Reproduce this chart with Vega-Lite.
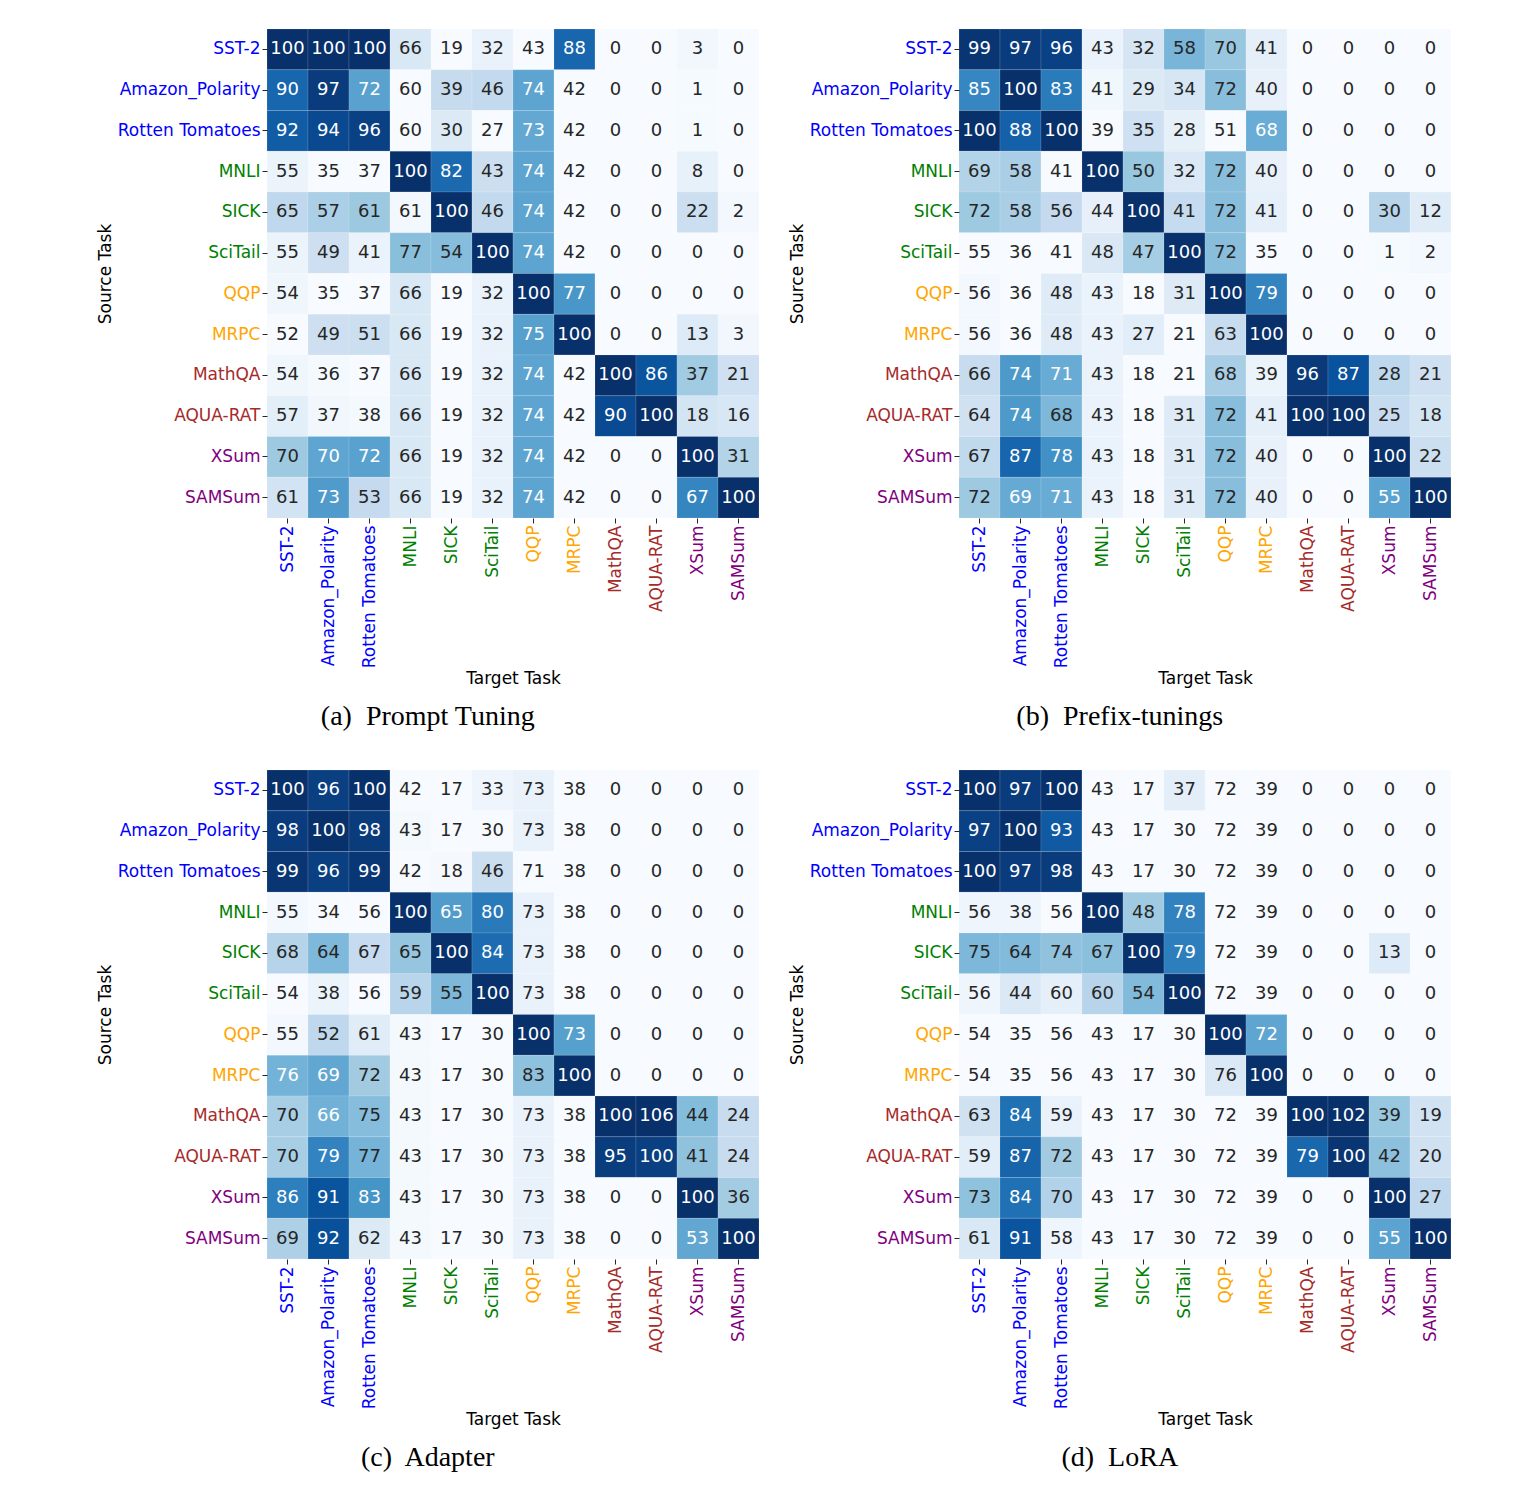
{
 "$schema": "https://vega.github.io/schema/vega-lite/v6.json",
 "padding": {"left": 96, "top": 28, "right": 5, "bottom": 5},
 "background": "white",
 "config": {
  "view": {"stroke": null},
  "axis": {"labelFont": "DejaVu Sans", "labelFontSize": 17, "titleFont": "DejaVu Sans", "titleFontSize": 17, "titleFontWeight": "normal", "titleColor": "#000000", "domain": false, "ticks": true, "tickSize": 5, "tickColor": "#262626", "tickWidth": 1, "labelPadding": 2, "titlePadding": 3, "grid": false},
  "title": {"font": "Liberation Serif", "fontSize": 28, "fontWeight": "normal", "color": "#000000", "orient": "bottom", "anchor": "middle", "frame": "bounds", "offset": 16}
 },
 "columns": 2,
 "spacing": {"row": 38, "column": 28},
 "datasets": {
  "a": [
{"s":"SST-2","t":"SST-2","v":100},{"s":"SST-2","t":"Amazon_Polarity","v":100},{"s":"SST-2","t":"Rotten Tomatoes","v":100},{"s":"SST-2","t":"MNLI","v":66},{"s":"SST-2","t":"SICK","v":19},{"s":"SST-2","t":"SciTail","v":32},{"s":"SST-2","t":"QQP","v":43},{"s":"SST-2","t":"MRPC","v":88},{"s":"SST-2","t":"MathQA","v":0},{"s":"SST-2","t":"AQUA-RAT","v":0},{"s":"SST-2","t":"XSum","v":3},{"s":"SST-2","t":"SAMSum","v":0},
{"s":"Amazon_Polarity","t":"SST-2","v":90},{"s":"Amazon_Polarity","t":"Amazon_Polarity","v":97},{"s":"Amazon_Polarity","t":"Rotten Tomatoes","v":72},{"s":"Amazon_Polarity","t":"MNLI","v":60},{"s":"Amazon_Polarity","t":"SICK","v":39},{"s":"Amazon_Polarity","t":"SciTail","v":46},{"s":"Amazon_Polarity","t":"QQP","v":74},{"s":"Amazon_Polarity","t":"MRPC","v":42},{"s":"Amazon_Polarity","t":"MathQA","v":0},{"s":"Amazon_Polarity","t":"AQUA-RAT","v":0},{"s":"Amazon_Polarity","t":"XSum","v":1},{"s":"Amazon_Polarity","t":"SAMSum","v":0},
{"s":"Rotten Tomatoes","t":"SST-2","v":92},{"s":"Rotten Tomatoes","t":"Amazon_Polarity","v":94},{"s":"Rotten Tomatoes","t":"Rotten Tomatoes","v":96},{"s":"Rotten Tomatoes","t":"MNLI","v":60},{"s":"Rotten Tomatoes","t":"SICK","v":30},{"s":"Rotten Tomatoes","t":"SciTail","v":27},{"s":"Rotten Tomatoes","t":"QQP","v":73},{"s":"Rotten Tomatoes","t":"MRPC","v":42},{"s":"Rotten Tomatoes","t":"MathQA","v":0},{"s":"Rotten Tomatoes","t":"AQUA-RAT","v":0},{"s":"Rotten Tomatoes","t":"XSum","v":1},{"s":"Rotten Tomatoes","t":"SAMSum","v":0},
{"s":"MNLI","t":"SST-2","v":55},{"s":"MNLI","t":"Amazon_Polarity","v":35},{"s":"MNLI","t":"Rotten Tomatoes","v":37},{"s":"MNLI","t":"MNLI","v":100},{"s":"MNLI","t":"SICK","v":82},{"s":"MNLI","t":"SciTail","v":43},{"s":"MNLI","t":"QQP","v":74},{"s":"MNLI","t":"MRPC","v":42},{"s":"MNLI","t":"MathQA","v":0},{"s":"MNLI","t":"AQUA-RAT","v":0},{"s":"MNLI","t":"XSum","v":8},{"s":"MNLI","t":"SAMSum","v":0},
{"s":"SICK","t":"SST-2","v":65},{"s":"SICK","t":"Amazon_Polarity","v":57},{"s":"SICK","t":"Rotten Tomatoes","v":61},{"s":"SICK","t":"MNLI","v":61},{"s":"SICK","t":"SICK","v":100},{"s":"SICK","t":"SciTail","v":46},{"s":"SICK","t":"QQP","v":74},{"s":"SICK","t":"MRPC","v":42},{"s":"SICK","t":"MathQA","v":0},{"s":"SICK","t":"AQUA-RAT","v":0},{"s":"SICK","t":"XSum","v":22},{"s":"SICK","t":"SAMSum","v":2},
{"s":"SciTail","t":"SST-2","v":55},{"s":"SciTail","t":"Amazon_Polarity","v":49},{"s":"SciTail","t":"Rotten Tomatoes","v":41},{"s":"SciTail","t":"MNLI","v":77},{"s":"SciTail","t":"SICK","v":54},{"s":"SciTail","t":"SciTail","v":100},{"s":"SciTail","t":"QQP","v":74},{"s":"SciTail","t":"MRPC","v":42},{"s":"SciTail","t":"MathQA","v":0},{"s":"SciTail","t":"AQUA-RAT","v":0},{"s":"SciTail","t":"XSum","v":0},{"s":"SciTail","t":"SAMSum","v":0},
{"s":"QQP","t":"SST-2","v":54},{"s":"QQP","t":"Amazon_Polarity","v":35},{"s":"QQP","t":"Rotten Tomatoes","v":37},{"s":"QQP","t":"MNLI","v":66},{"s":"QQP","t":"SICK","v":19},{"s":"QQP","t":"SciTail","v":32},{"s":"QQP","t":"QQP","v":100},{"s":"QQP","t":"MRPC","v":77},{"s":"QQP","t":"MathQA","v":0},{"s":"QQP","t":"AQUA-RAT","v":0},{"s":"QQP","t":"XSum","v":0},{"s":"QQP","t":"SAMSum","v":0},
{"s":"MRPC","t":"SST-2","v":52},{"s":"MRPC","t":"Amazon_Polarity","v":49},{"s":"MRPC","t":"Rotten Tomatoes","v":51},{"s":"MRPC","t":"MNLI","v":66},{"s":"MRPC","t":"SICK","v":19},{"s":"MRPC","t":"SciTail","v":32},{"s":"MRPC","t":"QQP","v":75},{"s":"MRPC","t":"MRPC","v":100},{"s":"MRPC","t":"MathQA","v":0},{"s":"MRPC","t":"AQUA-RAT","v":0},{"s":"MRPC","t":"XSum","v":13},{"s":"MRPC","t":"SAMSum","v":3},
{"s":"MathQA","t":"SST-2","v":54},{"s":"MathQA","t":"Amazon_Polarity","v":36},{"s":"MathQA","t":"Rotten Tomatoes","v":37},{"s":"MathQA","t":"MNLI","v":66},{"s":"MathQA","t":"SICK","v":19},{"s":"MathQA","t":"SciTail","v":32},{"s":"MathQA","t":"QQP","v":74},{"s":"MathQA","t":"MRPC","v":42},{"s":"MathQA","t":"MathQA","v":100},{"s":"MathQA","t":"AQUA-RAT","v":86},{"s":"MathQA","t":"XSum","v":37},{"s":"MathQA","t":"SAMSum","v":21},
{"s":"AQUA-RAT","t":"SST-2","v":57},{"s":"AQUA-RAT","t":"Amazon_Polarity","v":37},{"s":"AQUA-RAT","t":"Rotten Tomatoes","v":38},{"s":"AQUA-RAT","t":"MNLI","v":66},{"s":"AQUA-RAT","t":"SICK","v":19},{"s":"AQUA-RAT","t":"SciTail","v":32},{"s":"AQUA-RAT","t":"QQP","v":74},{"s":"AQUA-RAT","t":"MRPC","v":42},{"s":"AQUA-RAT","t":"MathQA","v":90},{"s":"AQUA-RAT","t":"AQUA-RAT","v":100},{"s":"AQUA-RAT","t":"XSum","v":18},{"s":"AQUA-RAT","t":"SAMSum","v":16},
{"s":"XSum","t":"SST-2","v":70},{"s":"XSum","t":"Amazon_Polarity","v":70},{"s":"XSum","t":"Rotten Tomatoes","v":72},{"s":"XSum","t":"MNLI","v":66},{"s":"XSum","t":"SICK","v":19},{"s":"XSum","t":"SciTail","v":32},{"s":"XSum","t":"QQP","v":74},{"s":"XSum","t":"MRPC","v":42},{"s":"XSum","t":"MathQA","v":0},{"s":"XSum","t":"AQUA-RAT","v":0},{"s":"XSum","t":"XSum","v":100},{"s":"XSum","t":"SAMSum","v":31},
{"s":"SAMSum","t":"SST-2","v":61},{"s":"SAMSum","t":"Amazon_Polarity","v":73},{"s":"SAMSum","t":"Rotten Tomatoes","v":53},{"s":"SAMSum","t":"MNLI","v":66},{"s":"SAMSum","t":"SICK","v":19},{"s":"SAMSum","t":"SciTail","v":32},{"s":"SAMSum","t":"QQP","v":74},{"s":"SAMSum","t":"MRPC","v":42},{"s":"SAMSum","t":"MathQA","v":0},{"s":"SAMSum","t":"AQUA-RAT","v":0},{"s":"SAMSum","t":"XSum","v":67},{"s":"SAMSum","t":"SAMSum","v":100}
  ],
  "b": [
{"s":"SST-2","t":"SST-2","v":99},{"s":"SST-2","t":"Amazon_Polarity","v":97},{"s":"SST-2","t":"Rotten Tomatoes","v":96},{"s":"SST-2","t":"MNLI","v":43},{"s":"SST-2","t":"SICK","v":32},{"s":"SST-2","t":"SciTail","v":58},{"s":"SST-2","t":"QQP","v":70},{"s":"SST-2","t":"MRPC","v":41},{"s":"SST-2","t":"MathQA","v":0},{"s":"SST-2","t":"AQUA-RAT","v":0},{"s":"SST-2","t":"XSum","v":0},{"s":"SST-2","t":"SAMSum","v":0},
{"s":"Amazon_Polarity","t":"SST-2","v":85},{"s":"Amazon_Polarity","t":"Amazon_Polarity","v":100},{"s":"Amazon_Polarity","t":"Rotten Tomatoes","v":83},{"s":"Amazon_Polarity","t":"MNLI","v":41},{"s":"Amazon_Polarity","t":"SICK","v":29},{"s":"Amazon_Polarity","t":"SciTail","v":34},{"s":"Amazon_Polarity","t":"QQP","v":72},{"s":"Amazon_Polarity","t":"MRPC","v":40},{"s":"Amazon_Polarity","t":"MathQA","v":0},{"s":"Amazon_Polarity","t":"AQUA-RAT","v":0},{"s":"Amazon_Polarity","t":"XSum","v":0},{"s":"Amazon_Polarity","t":"SAMSum","v":0},
{"s":"Rotten Tomatoes","t":"SST-2","v":100},{"s":"Rotten Tomatoes","t":"Amazon_Polarity","v":88},{"s":"Rotten Tomatoes","t":"Rotten Tomatoes","v":100},{"s":"Rotten Tomatoes","t":"MNLI","v":39},{"s":"Rotten Tomatoes","t":"SICK","v":35},{"s":"Rotten Tomatoes","t":"SciTail","v":28},{"s":"Rotten Tomatoes","t":"QQP","v":51},{"s":"Rotten Tomatoes","t":"MRPC","v":68},{"s":"Rotten Tomatoes","t":"MathQA","v":0},{"s":"Rotten Tomatoes","t":"AQUA-RAT","v":0},{"s":"Rotten Tomatoes","t":"XSum","v":0},{"s":"Rotten Tomatoes","t":"SAMSum","v":0},
{"s":"MNLI","t":"SST-2","v":69},{"s":"MNLI","t":"Amazon_Polarity","v":58},{"s":"MNLI","t":"Rotten Tomatoes","v":41},{"s":"MNLI","t":"MNLI","v":100},{"s":"MNLI","t":"SICK","v":50},{"s":"MNLI","t":"SciTail","v":32},{"s":"MNLI","t":"QQP","v":72},{"s":"MNLI","t":"MRPC","v":40},{"s":"MNLI","t":"MathQA","v":0},{"s":"MNLI","t":"AQUA-RAT","v":0},{"s":"MNLI","t":"XSum","v":0},{"s":"MNLI","t":"SAMSum","v":0},
{"s":"SICK","t":"SST-2","v":72},{"s":"SICK","t":"Amazon_Polarity","v":58},{"s":"SICK","t":"Rotten Tomatoes","v":56},{"s":"SICK","t":"MNLI","v":44},{"s":"SICK","t":"SICK","v":100},{"s":"SICK","t":"SciTail","v":41},{"s":"SICK","t":"QQP","v":72},{"s":"SICK","t":"MRPC","v":41},{"s":"SICK","t":"MathQA","v":0},{"s":"SICK","t":"AQUA-RAT","v":0},{"s":"SICK","t":"XSum","v":30},{"s":"SICK","t":"SAMSum","v":12},
{"s":"SciTail","t":"SST-2","v":55},{"s":"SciTail","t":"Amazon_Polarity","v":36},{"s":"SciTail","t":"Rotten Tomatoes","v":41},{"s":"SciTail","t":"MNLI","v":48},{"s":"SciTail","t":"SICK","v":47},{"s":"SciTail","t":"SciTail","v":100},{"s":"SciTail","t":"QQP","v":72},{"s":"SciTail","t":"MRPC","v":35},{"s":"SciTail","t":"MathQA","v":0},{"s":"SciTail","t":"AQUA-RAT","v":0},{"s":"SciTail","t":"XSum","v":1},{"s":"SciTail","t":"SAMSum","v":2},
{"s":"QQP","t":"SST-2","v":56},{"s":"QQP","t":"Amazon_Polarity","v":36},{"s":"QQP","t":"Rotten Tomatoes","v":48},{"s":"QQP","t":"MNLI","v":43},{"s":"QQP","t":"SICK","v":18},{"s":"QQP","t":"SciTail","v":31},{"s":"QQP","t":"QQP","v":100},{"s":"QQP","t":"MRPC","v":79},{"s":"QQP","t":"MathQA","v":0},{"s":"QQP","t":"AQUA-RAT","v":0},{"s":"QQP","t":"XSum","v":0},{"s":"QQP","t":"SAMSum","v":0},
{"s":"MRPC","t":"SST-2","v":56},{"s":"MRPC","t":"Amazon_Polarity","v":36},{"s":"MRPC","t":"Rotten Tomatoes","v":48},{"s":"MRPC","t":"MNLI","v":43},{"s":"MRPC","t":"SICK","v":27},{"s":"MRPC","t":"SciTail","v":21},{"s":"MRPC","t":"QQP","v":63},{"s":"MRPC","t":"MRPC","v":100},{"s":"MRPC","t":"MathQA","v":0},{"s":"MRPC","t":"AQUA-RAT","v":0},{"s":"MRPC","t":"XSum","v":0},{"s":"MRPC","t":"SAMSum","v":0},
{"s":"MathQA","t":"SST-2","v":66},{"s":"MathQA","t":"Amazon_Polarity","v":74},{"s":"MathQA","t":"Rotten Tomatoes","v":71},{"s":"MathQA","t":"MNLI","v":43},{"s":"MathQA","t":"SICK","v":18},{"s":"MathQA","t":"SciTail","v":21},{"s":"MathQA","t":"QQP","v":68},{"s":"MathQA","t":"MRPC","v":39},{"s":"MathQA","t":"MathQA","v":96},{"s":"MathQA","t":"AQUA-RAT","v":87},{"s":"MathQA","t":"XSum","v":28},{"s":"MathQA","t":"SAMSum","v":21},
{"s":"AQUA-RAT","t":"SST-2","v":64},{"s":"AQUA-RAT","t":"Amazon_Polarity","v":74},{"s":"AQUA-RAT","t":"Rotten Tomatoes","v":68},{"s":"AQUA-RAT","t":"MNLI","v":43},{"s":"AQUA-RAT","t":"SICK","v":18},{"s":"AQUA-RAT","t":"SciTail","v":31},{"s":"AQUA-RAT","t":"QQP","v":72},{"s":"AQUA-RAT","t":"MRPC","v":41},{"s":"AQUA-RAT","t":"MathQA","v":100},{"s":"AQUA-RAT","t":"AQUA-RAT","v":100},{"s":"AQUA-RAT","t":"XSum","v":25},{"s":"AQUA-RAT","t":"SAMSum","v":18},
{"s":"XSum","t":"SST-2","v":67},{"s":"XSum","t":"Amazon_Polarity","v":87},{"s":"XSum","t":"Rotten Tomatoes","v":78},{"s":"XSum","t":"MNLI","v":43},{"s":"XSum","t":"SICK","v":18},{"s":"XSum","t":"SciTail","v":31},{"s":"XSum","t":"QQP","v":72},{"s":"XSum","t":"MRPC","v":40},{"s":"XSum","t":"MathQA","v":0},{"s":"XSum","t":"AQUA-RAT","v":0},{"s":"XSum","t":"XSum","v":100},{"s":"XSum","t":"SAMSum","v":22},
{"s":"SAMSum","t":"SST-2","v":72},{"s":"SAMSum","t":"Amazon_Polarity","v":69},{"s":"SAMSum","t":"Rotten Tomatoes","v":71},{"s":"SAMSum","t":"MNLI","v":43},{"s":"SAMSum","t":"SICK","v":18},{"s":"SAMSum","t":"SciTail","v":31},{"s":"SAMSum","t":"QQP","v":72},{"s":"SAMSum","t":"MRPC","v":40},{"s":"SAMSum","t":"MathQA","v":0},{"s":"SAMSum","t":"AQUA-RAT","v":0},{"s":"SAMSum","t":"XSum","v":55},{"s":"SAMSum","t":"SAMSum","v":100}
  ],
  "c": [
{"s":"SST-2","t":"SST-2","v":100},{"s":"SST-2","t":"Amazon_Polarity","v":96},{"s":"SST-2","t":"Rotten Tomatoes","v":100},{"s":"SST-2","t":"MNLI","v":42},{"s":"SST-2","t":"SICK","v":17},{"s":"SST-2","t":"SciTail","v":33},{"s":"SST-2","t":"QQP","v":73},{"s":"SST-2","t":"MRPC","v":38},{"s":"SST-2","t":"MathQA","v":0},{"s":"SST-2","t":"AQUA-RAT","v":0},{"s":"SST-2","t":"XSum","v":0},{"s":"SST-2","t":"SAMSum","v":0},
{"s":"Amazon_Polarity","t":"SST-2","v":98},{"s":"Amazon_Polarity","t":"Amazon_Polarity","v":100},{"s":"Amazon_Polarity","t":"Rotten Tomatoes","v":98},{"s":"Amazon_Polarity","t":"MNLI","v":43},{"s":"Amazon_Polarity","t":"SICK","v":17},{"s":"Amazon_Polarity","t":"SciTail","v":30},{"s":"Amazon_Polarity","t":"QQP","v":73},{"s":"Amazon_Polarity","t":"MRPC","v":38},{"s":"Amazon_Polarity","t":"MathQA","v":0},{"s":"Amazon_Polarity","t":"AQUA-RAT","v":0},{"s":"Amazon_Polarity","t":"XSum","v":0},{"s":"Amazon_Polarity","t":"SAMSum","v":0},
{"s":"Rotten Tomatoes","t":"SST-2","v":99},{"s":"Rotten Tomatoes","t":"Amazon_Polarity","v":96},{"s":"Rotten Tomatoes","t":"Rotten Tomatoes","v":99},{"s":"Rotten Tomatoes","t":"MNLI","v":42},{"s":"Rotten Tomatoes","t":"SICK","v":18},{"s":"Rotten Tomatoes","t":"SciTail","v":46},{"s":"Rotten Tomatoes","t":"QQP","v":71},{"s":"Rotten Tomatoes","t":"MRPC","v":38},{"s":"Rotten Tomatoes","t":"MathQA","v":0},{"s":"Rotten Tomatoes","t":"AQUA-RAT","v":0},{"s":"Rotten Tomatoes","t":"XSum","v":0},{"s":"Rotten Tomatoes","t":"SAMSum","v":0},
{"s":"MNLI","t":"SST-2","v":55},{"s":"MNLI","t":"Amazon_Polarity","v":34},{"s":"MNLI","t":"Rotten Tomatoes","v":56},{"s":"MNLI","t":"MNLI","v":100},{"s":"MNLI","t":"SICK","v":65},{"s":"MNLI","t":"SciTail","v":80},{"s":"MNLI","t":"QQP","v":73},{"s":"MNLI","t":"MRPC","v":38},{"s":"MNLI","t":"MathQA","v":0},{"s":"MNLI","t":"AQUA-RAT","v":0},{"s":"MNLI","t":"XSum","v":0},{"s":"MNLI","t":"SAMSum","v":0},
{"s":"SICK","t":"SST-2","v":68},{"s":"SICK","t":"Amazon_Polarity","v":64},{"s":"SICK","t":"Rotten Tomatoes","v":67},{"s":"SICK","t":"MNLI","v":65},{"s":"SICK","t":"SICK","v":100},{"s":"SICK","t":"SciTail","v":84},{"s":"SICK","t":"QQP","v":73},{"s":"SICK","t":"MRPC","v":38},{"s":"SICK","t":"MathQA","v":0},{"s":"SICK","t":"AQUA-RAT","v":0},{"s":"SICK","t":"XSum","v":0},{"s":"SICK","t":"SAMSum","v":0},
{"s":"SciTail","t":"SST-2","v":54},{"s":"SciTail","t":"Amazon_Polarity","v":38},{"s":"SciTail","t":"Rotten Tomatoes","v":56},{"s":"SciTail","t":"MNLI","v":59},{"s":"SciTail","t":"SICK","v":55},{"s":"SciTail","t":"SciTail","v":100},{"s":"SciTail","t":"QQP","v":73},{"s":"SciTail","t":"MRPC","v":38},{"s":"SciTail","t":"MathQA","v":0},{"s":"SciTail","t":"AQUA-RAT","v":0},{"s":"SciTail","t":"XSum","v":0},{"s":"SciTail","t":"SAMSum","v":0},
{"s":"QQP","t":"SST-2","v":55},{"s":"QQP","t":"Amazon_Polarity","v":52},{"s":"QQP","t":"Rotten Tomatoes","v":61},{"s":"QQP","t":"MNLI","v":43},{"s":"QQP","t":"SICK","v":17},{"s":"QQP","t":"SciTail","v":30},{"s":"QQP","t":"QQP","v":100},{"s":"QQP","t":"MRPC","v":73},{"s":"QQP","t":"MathQA","v":0},{"s":"QQP","t":"AQUA-RAT","v":0},{"s":"QQP","t":"XSum","v":0},{"s":"QQP","t":"SAMSum","v":0},
{"s":"MRPC","t":"SST-2","v":76},{"s":"MRPC","t":"Amazon_Polarity","v":69},{"s":"MRPC","t":"Rotten Tomatoes","v":72},{"s":"MRPC","t":"MNLI","v":43},{"s":"MRPC","t":"SICK","v":17},{"s":"MRPC","t":"SciTail","v":30},{"s":"MRPC","t":"QQP","v":83},{"s":"MRPC","t":"MRPC","v":100},{"s":"MRPC","t":"MathQA","v":0},{"s":"MRPC","t":"AQUA-RAT","v":0},{"s":"MRPC","t":"XSum","v":0},{"s":"MRPC","t":"SAMSum","v":0},
{"s":"MathQA","t":"SST-2","v":70},{"s":"MathQA","t":"Amazon_Polarity","v":66},{"s":"MathQA","t":"Rotten Tomatoes","v":75},{"s":"MathQA","t":"MNLI","v":43},{"s":"MathQA","t":"SICK","v":17},{"s":"MathQA","t":"SciTail","v":30},{"s":"MathQA","t":"QQP","v":73},{"s":"MathQA","t":"MRPC","v":38},{"s":"MathQA","t":"MathQA","v":100},{"s":"MathQA","t":"AQUA-RAT","v":106},{"s":"MathQA","t":"XSum","v":44},{"s":"MathQA","t":"SAMSum","v":24},
{"s":"AQUA-RAT","t":"SST-2","v":70},{"s":"AQUA-RAT","t":"Amazon_Polarity","v":79},{"s":"AQUA-RAT","t":"Rotten Tomatoes","v":77},{"s":"AQUA-RAT","t":"MNLI","v":43},{"s":"AQUA-RAT","t":"SICK","v":17},{"s":"AQUA-RAT","t":"SciTail","v":30},{"s":"AQUA-RAT","t":"QQP","v":73},{"s":"AQUA-RAT","t":"MRPC","v":38},{"s":"AQUA-RAT","t":"MathQA","v":95},{"s":"AQUA-RAT","t":"AQUA-RAT","v":100},{"s":"AQUA-RAT","t":"XSum","v":41},{"s":"AQUA-RAT","t":"SAMSum","v":24},
{"s":"XSum","t":"SST-2","v":86},{"s":"XSum","t":"Amazon_Polarity","v":91},{"s":"XSum","t":"Rotten Tomatoes","v":83},{"s":"XSum","t":"MNLI","v":43},{"s":"XSum","t":"SICK","v":17},{"s":"XSum","t":"SciTail","v":30},{"s":"XSum","t":"QQP","v":73},{"s":"XSum","t":"MRPC","v":38},{"s":"XSum","t":"MathQA","v":0},{"s":"XSum","t":"AQUA-RAT","v":0},{"s":"XSum","t":"XSum","v":100},{"s":"XSum","t":"SAMSum","v":36},
{"s":"SAMSum","t":"SST-2","v":69},{"s":"SAMSum","t":"Amazon_Polarity","v":92},{"s":"SAMSum","t":"Rotten Tomatoes","v":62},{"s":"SAMSum","t":"MNLI","v":43},{"s":"SAMSum","t":"SICK","v":17},{"s":"SAMSum","t":"SciTail","v":30},{"s":"SAMSum","t":"QQP","v":73},{"s":"SAMSum","t":"MRPC","v":38},{"s":"SAMSum","t":"MathQA","v":0},{"s":"SAMSum","t":"AQUA-RAT","v":0},{"s":"SAMSum","t":"XSum","v":53},{"s":"SAMSum","t":"SAMSum","v":100}
  ],
  "d": [
{"s":"SST-2","t":"SST-2","v":100},{"s":"SST-2","t":"Amazon_Polarity","v":97},{"s":"SST-2","t":"Rotten Tomatoes","v":100},{"s":"SST-2","t":"MNLI","v":43},{"s":"SST-2","t":"SICK","v":17},{"s":"SST-2","t":"SciTail","v":37},{"s":"SST-2","t":"QQP","v":72},{"s":"SST-2","t":"MRPC","v":39},{"s":"SST-2","t":"MathQA","v":0},{"s":"SST-2","t":"AQUA-RAT","v":0},{"s":"SST-2","t":"XSum","v":0},{"s":"SST-2","t":"SAMSum","v":0},
{"s":"Amazon_Polarity","t":"SST-2","v":97},{"s":"Amazon_Polarity","t":"Amazon_Polarity","v":100},{"s":"Amazon_Polarity","t":"Rotten Tomatoes","v":93},{"s":"Amazon_Polarity","t":"MNLI","v":43},{"s":"Amazon_Polarity","t":"SICK","v":17},{"s":"Amazon_Polarity","t":"SciTail","v":30},{"s":"Amazon_Polarity","t":"QQP","v":72},{"s":"Amazon_Polarity","t":"MRPC","v":39},{"s":"Amazon_Polarity","t":"MathQA","v":0},{"s":"Amazon_Polarity","t":"AQUA-RAT","v":0},{"s":"Amazon_Polarity","t":"XSum","v":0},{"s":"Amazon_Polarity","t":"SAMSum","v":0},
{"s":"Rotten Tomatoes","t":"SST-2","v":100},{"s":"Rotten Tomatoes","t":"Amazon_Polarity","v":97},{"s":"Rotten Tomatoes","t":"Rotten Tomatoes","v":98},{"s":"Rotten Tomatoes","t":"MNLI","v":43},{"s":"Rotten Tomatoes","t":"SICK","v":17},{"s":"Rotten Tomatoes","t":"SciTail","v":30},{"s":"Rotten Tomatoes","t":"QQP","v":72},{"s":"Rotten Tomatoes","t":"MRPC","v":39},{"s":"Rotten Tomatoes","t":"MathQA","v":0},{"s":"Rotten Tomatoes","t":"AQUA-RAT","v":0},{"s":"Rotten Tomatoes","t":"XSum","v":0},{"s":"Rotten Tomatoes","t":"SAMSum","v":0},
{"s":"MNLI","t":"SST-2","v":56},{"s":"MNLI","t":"Amazon_Polarity","v":38},{"s":"MNLI","t":"Rotten Tomatoes","v":56},{"s":"MNLI","t":"MNLI","v":100},{"s":"MNLI","t":"SICK","v":48},{"s":"MNLI","t":"SciTail","v":78},{"s":"MNLI","t":"QQP","v":72},{"s":"MNLI","t":"MRPC","v":39},{"s":"MNLI","t":"MathQA","v":0},{"s":"MNLI","t":"AQUA-RAT","v":0},{"s":"MNLI","t":"XSum","v":0},{"s":"MNLI","t":"SAMSum","v":0},
{"s":"SICK","t":"SST-2","v":75},{"s":"SICK","t":"Amazon_Polarity","v":64},{"s":"SICK","t":"Rotten Tomatoes","v":74},{"s":"SICK","t":"MNLI","v":67},{"s":"SICK","t":"SICK","v":100},{"s":"SICK","t":"SciTail","v":79},{"s":"SICK","t":"QQP","v":72},{"s":"SICK","t":"MRPC","v":39},{"s":"SICK","t":"MathQA","v":0},{"s":"SICK","t":"AQUA-RAT","v":0},{"s":"SICK","t":"XSum","v":13},{"s":"SICK","t":"SAMSum","v":0},
{"s":"SciTail","t":"SST-2","v":56},{"s":"SciTail","t":"Amazon_Polarity","v":44},{"s":"SciTail","t":"Rotten Tomatoes","v":60},{"s":"SciTail","t":"MNLI","v":60},{"s":"SciTail","t":"SICK","v":54},{"s":"SciTail","t":"SciTail","v":100},{"s":"SciTail","t":"QQP","v":72},{"s":"SciTail","t":"MRPC","v":39},{"s":"SciTail","t":"MathQA","v":0},{"s":"SciTail","t":"AQUA-RAT","v":0},{"s":"SciTail","t":"XSum","v":0},{"s":"SciTail","t":"SAMSum","v":0},
{"s":"QQP","t":"SST-2","v":54},{"s":"QQP","t":"Amazon_Polarity","v":35},{"s":"QQP","t":"Rotten Tomatoes","v":56},{"s":"QQP","t":"MNLI","v":43},{"s":"QQP","t":"SICK","v":17},{"s":"QQP","t":"SciTail","v":30},{"s":"QQP","t":"QQP","v":100},{"s":"QQP","t":"MRPC","v":72},{"s":"QQP","t":"MathQA","v":0},{"s":"QQP","t":"AQUA-RAT","v":0},{"s":"QQP","t":"XSum","v":0},{"s":"QQP","t":"SAMSum","v":0},
{"s":"MRPC","t":"SST-2","v":54},{"s":"MRPC","t":"Amazon_Polarity","v":35},{"s":"MRPC","t":"Rotten Tomatoes","v":56},{"s":"MRPC","t":"MNLI","v":43},{"s":"MRPC","t":"SICK","v":17},{"s":"MRPC","t":"SciTail","v":30},{"s":"MRPC","t":"QQP","v":76},{"s":"MRPC","t":"MRPC","v":100},{"s":"MRPC","t":"MathQA","v":0},{"s":"MRPC","t":"AQUA-RAT","v":0},{"s":"MRPC","t":"XSum","v":0},{"s":"MRPC","t":"SAMSum","v":0},
{"s":"MathQA","t":"SST-2","v":63},{"s":"MathQA","t":"Amazon_Polarity","v":84},{"s":"MathQA","t":"Rotten Tomatoes","v":59},{"s":"MathQA","t":"MNLI","v":43},{"s":"MathQA","t":"SICK","v":17},{"s":"MathQA","t":"SciTail","v":30},{"s":"MathQA","t":"QQP","v":72},{"s":"MathQA","t":"MRPC","v":39},{"s":"MathQA","t":"MathQA","v":100},{"s":"MathQA","t":"AQUA-RAT","v":102},{"s":"MathQA","t":"XSum","v":39},{"s":"MathQA","t":"SAMSum","v":19},
{"s":"AQUA-RAT","t":"SST-2","v":59},{"s":"AQUA-RAT","t":"Amazon_Polarity","v":87},{"s":"AQUA-RAT","t":"Rotten Tomatoes","v":72},{"s":"AQUA-RAT","t":"MNLI","v":43},{"s":"AQUA-RAT","t":"SICK","v":17},{"s":"AQUA-RAT","t":"SciTail","v":30},{"s":"AQUA-RAT","t":"QQP","v":72},{"s":"AQUA-RAT","t":"MRPC","v":39},{"s":"AQUA-RAT","t":"MathQA","v":79},{"s":"AQUA-RAT","t":"AQUA-RAT","v":100},{"s":"AQUA-RAT","t":"XSum","v":42},{"s":"AQUA-RAT","t":"SAMSum","v":20},
{"s":"XSum","t":"SST-2","v":73},{"s":"XSum","t":"Amazon_Polarity","v":84},{"s":"XSum","t":"Rotten Tomatoes","v":70},{"s":"XSum","t":"MNLI","v":43},{"s":"XSum","t":"SICK","v":17},{"s":"XSum","t":"SciTail","v":30},{"s":"XSum","t":"QQP","v":72},{"s":"XSum","t":"MRPC","v":39},{"s":"XSum","t":"MathQA","v":0},{"s":"XSum","t":"AQUA-RAT","v":0},{"s":"XSum","t":"XSum","v":100},{"s":"XSum","t":"SAMSum","v":27},
{"s":"SAMSum","t":"SST-2","v":61},{"s":"SAMSum","t":"Amazon_Polarity","v":91},{"s":"SAMSum","t":"Rotten Tomatoes","v":58},{"s":"SAMSum","t":"MNLI","v":43},{"s":"SAMSum","t":"SICK","v":17},{"s":"SAMSum","t":"SciTail","v":30},{"s":"SAMSum","t":"QQP","v":72},{"s":"SAMSum","t":"MRPC","v":39},{"s":"SAMSum","t":"MathQA","v":0},{"s":"SAMSum","t":"AQUA-RAT","v":0},{"s":"SAMSum","t":"XSum","v":55},{"s":"SAMSum","t":"SAMSum","v":100}
  ]
 },
 "concat": [
  {
   "data": {"name": "a"},
   "title": {"text": "(a)\u00a0 Prompt Tuning", "frame": "bounds"},
   "width": 492, "height": 489,
   "transform": [
    {"joinaggregate": [{"op": "min", "field": "v", "as": "vmin"}, {"op": "max", "field": "v", "as": "vmax"}], "groupby": ["t"]},
    {"calculate": "(datum.v - datum.vmin) / (datum.vmax - datum.vmin)", "as": "n"}
   ],
   "encoding": {
    "x": {"field": "t", "type": "nominal", "title": "Target Task", "sort": ["SST-2","Amazon_Polarity","Rotten Tomatoes","MNLI","SICK","SciTail","QQP","MRPC","MathQA","AQUA-RAT","XSum","SAMSum"], "axis": {"labelAngle": -90, "labelColor": {"expr": "indexof(['SST-2','Amazon_Polarity','Rotten Tomatoes'],datum.value)>=0?'#0000ff':indexof(['MNLI','SICK','SciTail'],datum.value)>=0?'#008000':indexof(['QQP','MRPC'],datum.value)>=0?'#ffa500':indexof(['MathQA','AQUA-RAT'],datum.value)>=0?'#a52a2a':'#800080'"}}},
    "y": {"field": "s", "type": "nominal", "title": "Source Task", "sort": ["SST-2","Amazon_Polarity","Rotten Tomatoes","MNLI","SICK","SciTail","QQP","MRPC","MathQA","AQUA-RAT","XSum","SAMSum"], "axis": {"labelColor": {"expr": "indexof(['SST-2','Amazon_Polarity','Rotten Tomatoes'],datum.value)>=0?'#0000ff':indexof(['MNLI','SICK','SciTail'],datum.value)>=0?'#008000':indexof(['QQP','MRPC'],datum.value)>=0?'#ffa500':indexof(['MathQA','AQUA-RAT'],datum.value)>=0?'#a52a2a':'#800080'"}}}
   },
   "layer": [
    {"mark": {"type": "rect", "stroke": "white", "strokeWidth": 0.5, "strokeOpacity": 0.25}, "encoding": {"color": {"field": "n", "type": "quantitative", "legend": null, "scale": {"domain": [0, 0.125, 0.25, 0.375, 0.5, 0.625, 0.75, 0.875, 1], "range": ["#f7fbff", "#deebf7", "#c6dbef", "#9ecae1", "#6baed6", "#4292c6", "#2171b5", "#08519c", "#08306b"]}}}},
    {"mark": {"type": "text", "font": "DejaVu Sans", "fontSize": 18}, "encoding": {"text": {"field": "v", "type": "quantitative", "format": "d"}, "color": {"condition": {"test": "datum.n > 0.4778", "value": "white"}, "value": "#262626"}}}
   ]
  },
  {
   "data": {"name": "b"},
   "title": {"text": "(b)\u00a0 Prefix-tunings", "frame": "bounds"},
   "width": 492, "height": 489,
   "transform": [
    {"joinaggregate": [{"op": "min", "field": "v", "as": "vmin"}, {"op": "max", "field": "v", "as": "vmax"}], "groupby": ["t"]},
    {"calculate": "(datum.v - datum.vmin) / (datum.vmax - datum.vmin)", "as": "n"}
   ],
   "encoding": {
    "x": {"field": "t", "type": "nominal", "title": "Target Task", "sort": ["SST-2","Amazon_Polarity","Rotten Tomatoes","MNLI","SICK","SciTail","QQP","MRPC","MathQA","AQUA-RAT","XSum","SAMSum"], "axis": {"labelAngle": -90, "labelColor": {"expr": "indexof(['SST-2','Amazon_Polarity','Rotten Tomatoes'],datum.value)>=0?'#0000ff':indexof(['MNLI','SICK','SciTail'],datum.value)>=0?'#008000':indexof(['QQP','MRPC'],datum.value)>=0?'#ffa500':indexof(['MathQA','AQUA-RAT'],datum.value)>=0?'#a52a2a':'#800080'"}}},
    "y": {"field": "s", "type": "nominal", "title": "Source Task", "sort": ["SST-2","Amazon_Polarity","Rotten Tomatoes","MNLI","SICK","SciTail","QQP","MRPC","MathQA","AQUA-RAT","XSum","SAMSum"], "axis": {"labelColor": {"expr": "indexof(['SST-2','Amazon_Polarity','Rotten Tomatoes'],datum.value)>=0?'#0000ff':indexof(['MNLI','SICK','SciTail'],datum.value)>=0?'#008000':indexof(['QQP','MRPC'],datum.value)>=0?'#ffa500':indexof(['MathQA','AQUA-RAT'],datum.value)>=0?'#a52a2a':'#800080'"}}}
   },
   "layer": [
    {"mark": {"type": "rect", "stroke": "white", "strokeWidth": 0.5, "strokeOpacity": 0.25}, "encoding": {"color": {"field": "n", "type": "quantitative", "legend": null, "scale": {"domain": [0, 0.125, 0.25, 0.375, 0.5, 0.625, 0.75, 0.875, 1], "range": ["#f7fbff", "#deebf7", "#c6dbef", "#9ecae1", "#6baed6", "#4292c6", "#2171b5", "#08519c", "#08306b"]}}}},
    {"mark": {"type": "text", "font": "DejaVu Sans", "fontSize": 18}, "encoding": {"text": {"field": "v", "type": "quantitative", "format": "d"}, "color": {"condition": {"test": "datum.n > 0.4778", "value": "white"}, "value": "#262626"}}}
   ]
  },
  {
   "data": {"name": "c"},
   "title": {"text": "(c)\u00a0 Adapter", "frame": "bounds"},
   "width": 492, "height": 489,
   "transform": [
    {"joinaggregate": [{"op": "min", "field": "v", "as": "vmin"}, {"op": "max", "field": "v", "as": "vmax"}], "groupby": ["t"]},
    {"calculate": "(datum.v - datum.vmin) / (datum.vmax - datum.vmin)", "as": "n"}
   ],
   "encoding": {
    "x": {"field": "t", "type": "nominal", "title": "Target Task", "sort": ["SST-2","Amazon_Polarity","Rotten Tomatoes","MNLI","SICK","SciTail","QQP","MRPC","MathQA","AQUA-RAT","XSum","SAMSum"], "axis": {"labelAngle": -90, "labelColor": {"expr": "indexof(['SST-2','Amazon_Polarity','Rotten Tomatoes'],datum.value)>=0?'#0000ff':indexof(['MNLI','SICK','SciTail'],datum.value)>=0?'#008000':indexof(['QQP','MRPC'],datum.value)>=0?'#ffa500':indexof(['MathQA','AQUA-RAT'],datum.value)>=0?'#a52a2a':'#800080'"}}},
    "y": {"field": "s", "type": "nominal", "title": "Source Task", "sort": ["SST-2","Amazon_Polarity","Rotten Tomatoes","MNLI","SICK","SciTail","QQP","MRPC","MathQA","AQUA-RAT","XSum","SAMSum"], "axis": {"labelColor": {"expr": "indexof(['SST-2','Amazon_Polarity','Rotten Tomatoes'],datum.value)>=0?'#0000ff':indexof(['MNLI','SICK','SciTail'],datum.value)>=0?'#008000':indexof(['QQP','MRPC'],datum.value)>=0?'#ffa500':indexof(['MathQA','AQUA-RAT'],datum.value)>=0?'#a52a2a':'#800080'"}}}
   },
   "layer": [
    {"mark": {"type": "rect", "stroke": "white", "strokeWidth": 0.5, "strokeOpacity": 0.25}, "encoding": {"color": {"field": "n", "type": "quantitative", "legend": null, "scale": {"domain": [0, 0.125, 0.25, 0.375, 0.5, 0.625, 0.75, 0.875, 1], "range": ["#f7fbff", "#deebf7", "#c6dbef", "#9ecae1", "#6baed6", "#4292c6", "#2171b5", "#08519c", "#08306b"]}}}},
    {"mark": {"type": "text", "font": "DejaVu Sans", "fontSize": 18}, "encoding": {"text": {"field": "v", "type": "quantitative", "format": "d"}, "color": {"condition": {"test": "datum.n > 0.4778", "value": "white"}, "value": "#262626"}}}
   ]
  },
  {
   "data": {"name": "d"},
   "title": {"text": "(d)\u00a0 LoRA", "frame": "bounds"},
   "width": 492, "height": 489,
   "transform": [
    {"joinaggregate": [{"op": "min", "field": "v", "as": "vmin"}, {"op": "max", "field": "v", "as": "vmax"}], "groupby": ["t"]},
    {"calculate": "(datum.v - datum.vmin) / (datum.vmax - datum.vmin)", "as": "n"}
   ],
   "encoding": {
    "x": {"field": "t", "type": "nominal", "title": "Target Task", "sort": ["SST-2","Amazon_Polarity","Rotten Tomatoes","MNLI","SICK","SciTail","QQP","MRPC","MathQA","AQUA-RAT","XSum","SAMSum"], "axis": {"labelAngle": -90, "labelColor": {"expr": "indexof(['SST-2','Amazon_Polarity','Rotten Tomatoes'],datum.value)>=0?'#0000ff':indexof(['MNLI','SICK','SciTail'],datum.value)>=0?'#008000':indexof(['QQP','MRPC'],datum.value)>=0?'#ffa500':indexof(['MathQA','AQUA-RAT'],datum.value)>=0?'#a52a2a':'#800080'"}}},
    "y": {"field": "s", "type": "nominal", "title": "Source Task", "sort": ["SST-2","Amazon_Polarity","Rotten Tomatoes","MNLI","SICK","SciTail","QQP","MRPC","MathQA","AQUA-RAT","XSum","SAMSum"], "axis": {"labelColor": {"expr": "indexof(['SST-2','Amazon_Polarity','Rotten Tomatoes'],datum.value)>=0?'#0000ff':indexof(['MNLI','SICK','SciTail'],datum.value)>=0?'#008000':indexof(['QQP','MRPC'],datum.value)>=0?'#ffa500':indexof(['MathQA','AQUA-RAT'],datum.value)>=0?'#a52a2a':'#800080'"}}}
   },
   "layer": [
    {"mark": {"type": "rect", "stroke": "white", "strokeWidth": 0.5, "strokeOpacity": 0.25}, "encoding": {"color": {"field": "n", "type": "quantitative", "legend": null, "scale": {"domain": [0, 0.125, 0.25, 0.375, 0.5, 0.625, 0.75, 0.875, 1], "range": ["#f7fbff", "#deebf7", "#c6dbef", "#9ecae1", "#6baed6", "#4292c6", "#2171b5", "#08519c", "#08306b"]}}}},
    {"mark": {"type": "text", "font": "DejaVu Sans", "fontSize": 18}, "encoding": {"text": {"field": "v", "type": "quantitative", "format": "d"}, "color": {"condition": {"test": "datum.n > 0.4778", "value": "white"}, "value": "#262626"}}}
   ]
  }
 ]
}
